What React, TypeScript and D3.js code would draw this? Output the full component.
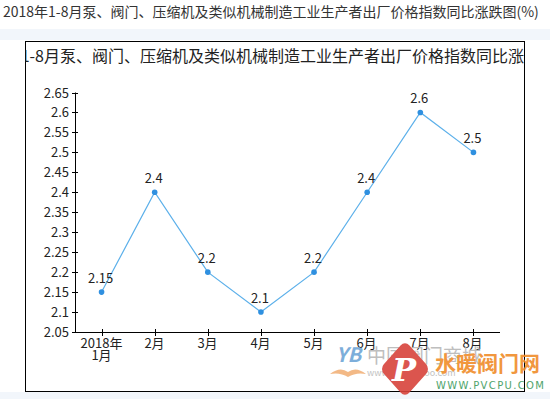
import React from 'react';
import * as d3 from 'd3';

const months = ['2018年\n1月', '2月', '3月', '4月', '5月', '6月', '7月', '8月'];
const values = [2.15, 2.4, 2.2, 2.1, 2.2, 2.4, 2.6, 2.5];
const yTicks = [2.05, 2.1, 2.15, 2.2, 2.25, 2.3, 2.35, 2.4, 2.45, 2.5, 2.55, 2.6, 2.65];

const headText = '2018年1-8月泵、阀门、压缩机及类似机械制造工业生产者出厂价格指数同比涨跌图(%)';
const titleText = '2018年1-8月泵、阀门、压缩机及类似机械制造工业生产者出厂价格指数同比涨跌图';

const W = 550;
const H = 399;
const FONT = '"Noto Sans CJK SC", "Noto Sans", sans-serif';

export default function App() {
  const x = d3.scalePoint<string>().domain(months).range([75, 500]).padding(0.5);
  const y = d3.scaleLinear().domain([2.05, 2.65]).range([332, 92.5]);

  const pts = months.map((m, i) => ({ m, v: values[i] }));
  const line = d3
    .line<{ m: string; v: number }>()
    .x((d) => x(d.m) as number)
    .y((d) => y(d.v));

  const box = { x: 25.5, y: 41.5, w: 499, h: 350 };

  return (
    <div style={{ position: 'absolute', left: 0, top: 0 }}>
      <svg width={W} height={H} style={{ display: 'block', fontFamily: FONT }}>
        <rect x={0} y={0} width={W} height={H} fill="#fff" />
        <rect x={0} y={29} width={W} height={11} fill="#f2f6fb" />
        <rect x={0} y={392} width={W} height={7} fill="#f2f6fb" />
        <text x={3} y={17} fontSize={14} fill="#333">
          {headText}
        </text>

        <defs>
          <clipPath id="boxclip">
            <rect x={box.x} y={box.y} width={box.w} height={box.h} />
          </clipPath>
        </defs>
        <rect x={box.x} y={box.y} width={box.w} height={box.h} fill="#fff" stroke="#000" strokeWidth={1} />
        <text x={556} y={62} fontSize={16} fill="#222" textAnchor="end" clipPath="url(#boxclip)">
          {titleText}
        </text>

        {/* y axis */}
        <line x1={75.5} x2={75.5} y1={y(2.65)} y2={y(2.05)} stroke="#000" />
        {yTicks.map((t) => (
          <g key={t} transform={`translate(0,${Math.round(y(t)) + 0.5})`}>
            <line x1={72} x2={78} stroke="#000" />
            <text x={69} dy="0.36em" textAnchor="end" fontSize={13} fill="#222">
              {t}
            </text>
          </g>
        ))}

        {/* x axis */}
        <line x1={75} x2={500} y1={332.5} y2={332.5} stroke="#000" />
        {months.map((m) => {
          const cx = Math.round(x(m) as number) + 0.5;
          const parts = m.split('\n');
          return (
            <g key={m}>
              <line x1={cx} x2={cx} y1={329} y2={336} stroke="#000" />
              <text x={cx - 1} y={348} textAnchor="middle" fontSize={13} fill="#222">
                {parts.map((p, i) => (
                  <tspan key={p} x={cx - 1} dy={i === 0 ? 0 : 12}>
                    {p}
                  </tspan>
                ))}
              </text>
            </g>
          );
        })}

        <path d={line(pts) || ''} fill="none" stroke="#5cb0ea" strokeWidth={1.2} />
        {pts.map((d) => (
          <g key={d.m}>
            <circle cx={x(d.m)} cy={y(d.v)} r={2.8} fill="#2f90e0" />
            <text x={(x(d.m) as number) - 1} y={y(d.v) - 9} textAnchor="middle" fontSize={13} fill="#222">
              {d.v}
            </text>
          </g>
        ))}

        {/* watermark */}
        <g opacity={0.9}>
          <text x={336} y={362} fontSize={20} fontStyle="italic" fontWeight="bold" fill="#6fa6d6">
            YB
          </text>
          <path d="M330,374 Q340,366 348,372 Q356,366 366,374 Q356,372 348,377 Q340,372 330,374 Z" fill="#f2b27a" />
          <text x={367} y={363} fontSize={19} fill="#b8b8b8">
            中国阀门商城
          </text>
          <text x={367} y={376} fontSize={9} fill="#bbb">
            www.chinabaoo.com
          </text>
          <rect
            x={-18}
            y={-18}
            width={36}
            height={36}
            rx={6}
            fill="#d8433b"
            transform="translate(405,369) scale(1,1.12) rotate(45)"
          />
          <text x={404} y={381} fontSize={32} fontStyle="italic" fontWeight="bold" fill="#fff" textAnchor="middle" fontFamily="DejaVu Serif, serif">
            P
          </text>
          <text x={435} y={371} fontSize={21} fill="#f08c2a" fontWeight="bold">
            水暖阀门网
          </text>
          <text x={436} y={389} fontSize={10} fill="#3a9a5a" textLength={108} lengthAdjust="spacing" fontFamily="DejaVu Sans, sans-serif">
            WWW.PVCPU.COM
          </text>
        </g>
      </svg>
    </div>
  );
}
